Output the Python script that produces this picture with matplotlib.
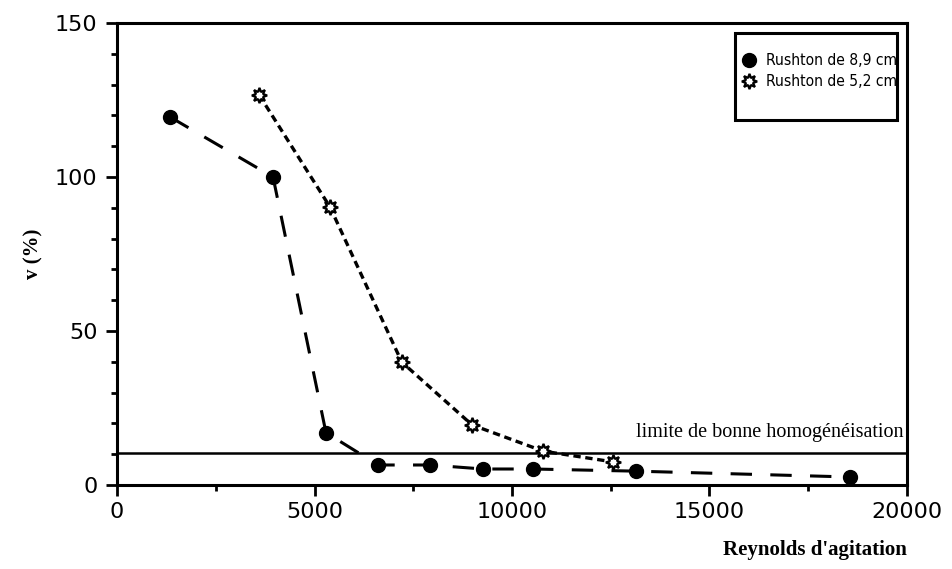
import matplotlib
matplotlib.use("Agg")
import matplotlib.pyplot as plt
from matplotlib.patches import Rectangle
from matplotlib.ticker import MultipleLocator

# Rushton de 8,9 cm
re_89 = [1340, 3950, 5290, 6610, 7920, 9270, 10530, 13140, 18560]
v_89 = [119.5, 100, 17, 6.5, 6.5, 5.2, 5.2, 4.5, 2.6]

# Rushton de 5,2 cm
re_52 = [3600, 5390, 7210, 8990, 10790, 12560]
v_52 = [126.6, 90.3, 39.9, 19.5, 11, 7.5]

limite = 10.5

fig = plt.figure(figsize=(9.53, 5.69), dpi=100)
ax = fig.add_axes([0.1228, 0.1476, 0.9517 - 0.1228, 0.9596 - 0.1476])

l1, = ax.plot(re_89, v_89, color="black", lw=2.2, dashes=(7, 6),
              marker="o", ms=10, mfc="black", mec="black", zorder=3)
l2, = ax.plot(re_52, v_52, color="black", lw=2.4, dashes=(2.2, 1.4),
              marker=(8, 1, 0), ms=11, mfc="white", mec="black", mew=1.6, zorder=4)

ax.axhline(limite, color="black", lw=1.8, zorder=2)
ax.text(19900, limite + 3.5, "limite de bonne homogénéisation", ha="right", va="bottom",
        family="Liberation Serif", fontsize=14.5)

ax.set_xlim(0, 20000)
ax.set_ylim(0, 150)
ax.xaxis.set_major_locator(MultipleLocator(5000))
ax.xaxis.set_minor_locator(MultipleLocator(2500))
ax.yaxis.set_major_locator(MultipleLocator(50))
ax.yaxis.set_minor_locator(MultipleLocator(10))
ax.tick_params(which="major", direction="out", length=8, width=2, labelsize=16, pad=4)
ax.tick_params(which="minor", direction="out", length=4, width=2)
ax.tick_params(axis="y", which="major", pad=6)
for s in ax.spines.values():
    s.set_linewidth(2.2)

ax.set_ylabel("v (%)", family="Liberation Serif", fontweight="bold", fontsize=15, labelpad=8)
ax.set_xlabel("Reynolds d'agitation", family="Liberation Serif", fontweight="bold",
              fontsize=15, loc="right", labelpad=13)

# legend: entries without frame, box drawn separately (text clipped by the box)
box = Rectangle((0.782, 0.790), 0.205, 0.188, transform=ax.transAxes,
                fill=False, lw=2.2, ec="black", zorder=6)
ax.add_patch(box)
leg = ax.legend([l1, l2], ["Rushton de 8,9 cm", "Rushton de 5,2 cm"],
                loc="upper left", bbox_to_anchor=(0.792, 0.935),
                prop={"family": "DejaVu Sans", "stretch": "condensed", "size": 11.2},
                frameon=False, handlelength=0.85, handletextpad=0.65,
                borderaxespad=0, borderpad=0, labelspacing=0.4)
for h in leg.legend_handles:
    h.set_linestyle("None")
for t in leg.get_texts():
    t.set_clip_on(True)
    t.set_clip_path(box)

fig.savefig("out.png", dpi=100)
